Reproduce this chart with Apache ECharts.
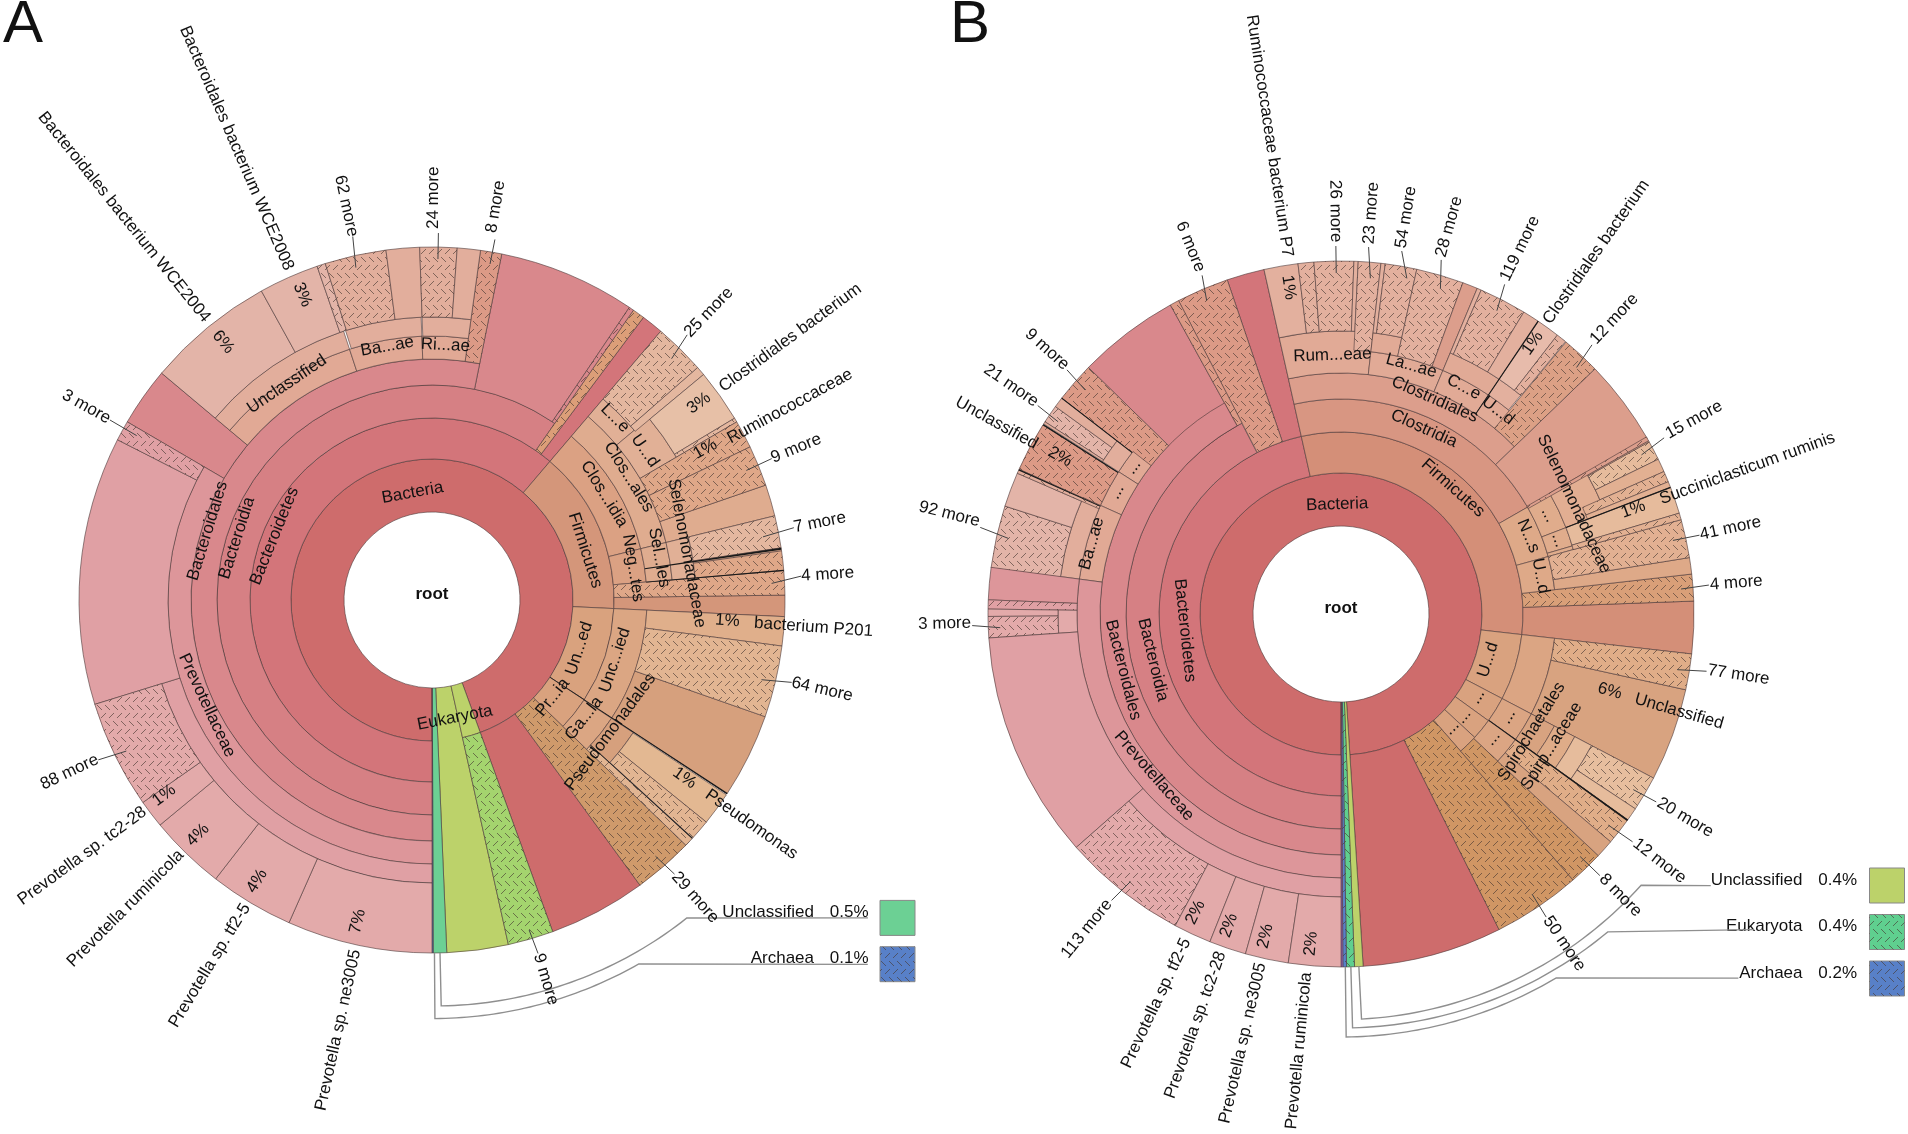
<!DOCTYPE html>
<html><head><meta charset="utf-8">
<style>html,body{margin:0;padding:0;background:#fff}#c{width:1908px;height:1134px}</style>
<script src="https://cdn.jsdelivr.net/npm/echarts@6/dist/echarts.min.js"></script>
</head><body><div id="c"></div>
<script>
// ring edges of the taxonomy levels, in axis units
const ringEdges = [88,141,182,215,241,264,283,353];

// sector rows: ['tone/name', inner ring, outer ring, from degree, to degree] (clockwise from top)
const sectorsA = [
['ba0/Bacteria',0,1,180,520],['ba0/rest',1,7,143.9,160],
['eu/Eukaryota',0,7,167.5,177.6],['eu/Eukaryota',0,1,160,167.5],['eh/9 more',1,7,160,167.5],
['uc/Unclassified',0,7,177.6,179.8],['ar/Archaea',0,7,179.8,180],
['bd1/Bacteroidetes',1,2,180,400.4],['bd1/rest',2,7,396.8,400.4],
['bd2/Bacteroidia',2,3,180,394.8],['pf/few more',2,7,394.8,396.8],
['bd3/rest',3,7,371.4,394],['bd3/few more',3,7,394,394.8],
['bd3/Bacteroidales',3,4,180,371.4],['hd/8 more',4,7,367.9,371.4],['bd3/rest',4,7,300.3,310],
['un4/Unclassified',4,5,310,341.8],['un5/Unclassified',5,6,310,341.8],
['un6/WCE2004',6,7,310,331.1],['un6/WCE2008',6,7,331.1,341],['un6/few more',6,7,341,342.4],
['un4/Ba...ae',4,5,341.8,357.8],['un5/Ba',5,6,342.2,357.8],['un5/62 more',6,7,342.4,352.5],['un5/rest',6,7,352.5,358],
['un4/Ri...ae',4,5,357.8,367.9],['un5/Ri',5,6,358,367.9],['un5/24 more',6,7,358,364.1],['un5/rest',6,7,364.1,367.9],
['bd4/Prevotellaceae',4,5,180,300.3],['bd5/Prevotella',5,6,180,252.8],['bd5/rest',5,7,252.8,297],['bd5/3 more',5,7,297,300.3],
['bd6/ne3005',6,7,180,203.9],['bd6/tf2-5',6,7,203.9,217.8],['bd6/ruminicola',6,7,217.8,230.4],['bd6/tc2-28',6,7,230.4,235],['bd6/88 more',6,7,235,252.8],
['fi1/Firmicutes',1,2,40.4,92.7],['fi1/rest',2,7,89.2,92.7],
['fi2/Clos...idia',2,3,40.4,76.2],['fi2/Neg...tes',2,3,76.2,85.2],['fh/4 more',2,7,85.2,89.2],
['fi3/Clos...ales',3,4,40.4,76.2],['fi3/Sel...les',3,4,76.2,85.2],['fi3/rest',4,7,71,76.2],
['fi4/L...e',4,5,40.4,50],['fi4/U...d',4,6,50,59.7],['fi5/rest',5,7,48.8,50.3],['fi5/25 more',5,7,40.4,48.8],
['fi6/Clostridiales bacterium',6,7,50.3,59],['fi5/few more',6,7,59,59.7],
['fh/Ruminococcaceae more',4,7,59.7,64.3],['fh/9 more',4,7,64.3,71],
['fi4/Selenomonadaceae',4,5,76.2,85.2],['fi5/7 more',5,7,76.2,81.5],['fi3/rest',5,7,81.5,82],['fh/few more',5,7,82,85.2],
['pt1/Un...ed',1,2,92.7,123.2],['pt2/Unc...ied',2,3,92.7,123.4],['pt3/rest',3,7,109.3,123.3],['pt4/P201',3,7,92.7,97.5],['pt5/64 more',3,7,97.5,109.3],
['pt1/Pr...ia',1,2,123.2,134],['ph/29 more',1,7,134,143.9],['pt2/Ga...la',2,3,123.4,134],
['pt3/Pseudomonadales',3,4,123.4,132.5],['pl/Pseudomonas',4,7,123.5,129],['pt5/few more',4,7,129,132.4],['pt5/few more',3,7,132.5,134],
['dk/edge',1,7,123.15,123.4],['dk/edge',3,7,85.1,85.3],['dk/edge',3,7,132.4,132.55],['dk/edge',3,7,81.5,81.8]
];
const sectorsB = [
['ba0/Bacteria',0,1,180,536.4],['ba0/rest',1,7,153.4,176.4],
['yl/Unclassified',0,7,176.4,177.8],['gh/Eukaryota more',0,7,177.8,179.1],['ah/Archaea more',0,7,179.1,179.7],['pu/Other',0,7,179.7,180],
['bd1/Bacteroidetes',1,2,180,347.4],['bd1/rest',2,7,341.2,347.4],
['bd2/Bacteroidia',2,3,180,332.5],['hd/6 more',2,7,332.6,341.2],
['bd3/rest',3,7,314.3,331.1],['hd/few more',3,7,331.1,332.6],
['bd3/Bacteroidales',3,4,180,331.1],['hd/9 more',4,7,307.7,314.3],
['un6/21 more',6,7,303,306],['un5/rest',6,7,302.6,303],['un5/rest',6,7,306,307.7],['un4/...',4,5,302.6,308],['un5/rest',5,6,302.6,307.7],
['un4/...',4,5,294.3,302.6],['hd/Unclassified more',5,7,294.2,302.4],
['un4/Ba...ae',4,5,277.6,294.3],['un5/Ba',5,6,277.6,294.3],['un6/92 more',6,7,277.5,287.8],['un6/rest',6,7,287.8,293.5],['un5/few more',5,7,293.5,294.2],
['bd4/Prevotellaceae',4,5,180,277.6],['bd4/rest',5,7,272.3,277.6],
['bd5/few more',5,7,270.8,272.3],['bd6/box',5,6,266.1,270.8],['bd6/rest',6,7,269.6,270.8],['bd6/3 more',6,7,266.1,269.6],
['bd5/rest',5,7,228.6,266.1],['bd5/Prevotella',5,6,180,228.6],
['bd6/113 more',6,7,208,228.6],['bd6/tf2-5',6,7,201.8,208],['bd6/tc2-28',6,7,195.7,201.8],['bd6/ne3005',6,7,188.6,195.7],['bd6/ruminicola',6,7,180,188.6],
['ff1/Firmicutes',1,2,347.4,456.5],['ff1/rest',2,7,87.9,96.5],
['ff2/Clostridia',2,3,347.4,420.2],['th2/4 more',2,7,83.5,87.9],['ts2/N...s',2,3,60.2,74.5],['ts2/U...d',2,3,74.5,83.5],
['ff3/Clostridiales',3,4,347.4,406],['ff3/rest',3,7,406,420.2],
['ff4/Rum...eae',4,6,347.4,366.5],['ff5/P7',6,7,347.4,353],['ff5/few more',6,7,353,355.6],['ff5/26 more',6,7,355.6,362.1],['ff5/rest',6,7,362.1,362.8],['ff5/23 more',5,7,362.8,366.5],
['ff4/La...ae',4,5,366.5,382.7],['ff4/La',5,6,366.5,372.4],['ff5/rest',6,7,366.5,367.2],['ff5/54 more',6,7,367.2,372.4],['ff5/28 more',5,7,372.4,380.2],['ff3/rest',5,7,380.2,382.7],
['ff4/C...e',4,5,382.7,394],['ff4/C',5,6,382.7,394],['ff5/rest',6,7,382.7,383.4],['ff5/119 more',6,7,383.4,391.2],['ff5/rest',6,7,391.2,394],
['ff4/U...d',4,5,394,400],['ff5/U',5,6,394,399.4],['ff6/Clostridiales bacterium',6,7,394,397.8],['ff5/few more',6,7,397.8,399.5],['ffh/12 more',4,7,399.6,406],
['ts3/...',3,4,60.2,69],['ts3/...',3,4,69,73.6],['ts3/rest',3,4,73.6,74.5],['ts2/rest',3,7,80.8,83.5],['ts5/41 more',3,7,74.5,80.8],
['ts4/Selenomonadaceae',4,6,59.9,69],['ts6/15 more',6,7,60.8,64],['ts5/rest',6,7,60.6,60.8],['ts5/rest',6,7,64,66.2],['ts5/few more',5,7,66.2,68],['ts5/rest',5,7,68,69],
['ts6/Succiniclasticum',4,7,69,73.4],['ts5/few more',4,7,73.4,74.5],['ff3/few more',3,7,59.9,60.6],
['tu1/U...d',1,2,96.5,117.7],['tu2/Un',2,3,96.5,117.7],['tu3/rest',3,7,102.4,117.7],['tu5/77 more',3,7,96.5,102.4],
['tu1/...',1,2,117.7,125.9],['tu1/...',1,2,125.9,132.7],['tu1/...',1,2,132.7,138.9],['th/50 more',1,7,138.9,153.4],
['tu2/...',2,3,117.7,125.7],['tu2/...',2,3,125.7,133.2],['th/8 more',2,7,133.2,138.9],
['tu3/Spirochaetales',3,4,117.7,125.7],['tu4/Spirp...aceae',4,5,117.7,125.7],['tu6/Sp',5,6,117.7,125.7],['tu7/20 more',6,7,117.7,123.5],['tu6/rest',6,7,123.5,125.7],
['tu5/12 more',3,7,125.7,130.2],['tu3/rest',3,7,130.2,133.2],
['dk/edge',2,7,125.6,125.9],['dk/edge',4,7,68.85,69.1],['dk/edge',4,7,33.85,34.05],['dk/edge',5,7,307.6,307.8],['dk/edge',5,7,294.0,294.2],['dk/edge',5,7,302.3,302.55]
];
// text labels: [text, degree, axis radius, kind] kind: i tangential, p radial centred, o radial from anchor
const labelsA = [
['root',0,6,'b'],['Bacteria',-10.3,109,'i'],['Bacteroidetes',-67.9,170,'i'],['Bacteroidia',-72.4,204.6,'i'],['Bacteroidales',-72.9,234.7,'i'],
['Prevotellaceae',244.9,248.6,'i'],['Eukaryota',169,120,'i'],['Firmicutes',72,161,'i'],['Clos...idia',58.4,202,'i'],['Neg...tes',81,203.5,'i'],
['Clos...ales',58,232,'i'],['Sel...les',79.4,231,'i'],['L...e',45.2,258,'i'],['U...d',55,260,'i'],['Selenomonadaceae',79.6,259,'i'],
['Pr...ia',128.9,155,'i'],['Un...ed',108.2,155,'i'],['Ga...la',127.9,192.7,'i'],['Unc...ied',108.2,192.6,'i'],['Pseudomonadales',126.5,222,'i'],
['Unclassified',-33.9,260,'i'],['Ba...ae',-10,257.4,'i'],['Ri...ae',3,255,'i'],
['6%',-39,332,'p'],['3%',-23,331.6,'p'],['3%',53.6,331.6,'p'],['1%',61.1,312,'p'],['1%',94,296,'p'],['1%',125.2,309,'p'],
['1%',233.9,331.6,'p'],['4%',224.9,331.6,'p'],['4%',211.9,331,'p'],['7%',193,330,'p'],
['Bacteroidales bacterium WCE2004',-38.8,359,'o'],['Bacteroidales bacterium WCE2008',-23.4,360,'o'],['62 more',-12.3,372,'o'],['24 more',0.2,371,'o'],['8 more',9.2,372,'o'],
['25 more',43.9,368,'o'],['Clostridiales bacterium',53.8,358,'o'],['Ruminococcaceae',61.6,337,'o'],['9 more',67.4,368,'o'],['7 more',78.7,369,'o'],['4 more',86.3,370,'o'],
['bacterium P201',94.1,323,'o'],['64 more',102.9,369,'o'],['Pseudomonas',125.1,336,'o'],['29 more',138.5,366,'o'],['9 more',163.3,369.6,'o'],
['Prevotella sp. ne3005',192.3,358,'o'],['Prevotella sp. tf2-5',211.3,357,'o'],['Prevotella ruminicola',224.8,356,'o'],['Prevotella sp. tc2-28',233.8,356,'o'],
['88 more',244.6,370,'o'],['3 more',-60.8,369.6,'o']
];
const labelsB = [
['root',0,5.4,'b'],['Bacteria',-2,109.6,'i'],['Bacteroidetes',264,157,'i'],['Bacteroidia',256.3,193.6,'i'],['Bacteroidales',255.6,225,'i'],['Prevotellaceae',229.1,247.4,'i'],
['Firmicutes',41.6,168.5,'i'],['Clostridia',24.1,203,'i'],['Clostridiales',23.6,234,'i'],['Rum...eae',-1.9,259,'i'],['La...ae',15.8,258,'i'],['C...e',28.4,258,'i'],['U...d',37.7,257,'i'],
['Selenomonadaceae',64.7,257.6,'i'],['N...s',67.4,203,'i'],['U...d',79.2,203,'i'],['...',64.5,230,'i'],['...',71.2,230,'i'],
['U...d',107.3,154,'i'],['...',121.2,159.4,'i'],['...',129.8,159.3,'i'],['...',135.7,158.4,'i'],['...',121.5,196,'i'],['...',129.3,196,'i'],
['Spirochaetales',121.7,224,'i'],['Spirp...aceae',122.1,248.6,'i'],['Ba...ae',-74.2,259,'i'],['...',-54.7,254.6,'i'],['...',-61.4,255.5,'i'],
['1%',-9.1,330.7,'p'],['1%',35.3,331.7,'p'],['1%',70.3,310.5,'p'],['6%',106,279.7,'p'],['2%',-60.8,322,'p'],['2%',206,332,'p'],['2%',199.8,331,'p'],['2%',193.2,331,'p'],['2%',185.2,331,'p'],
['Ruminococcaceae bacterium P7',-8.5,361,'o'],['6 more',-22.3,370.5,'o'],['26 more',-0.8,371.7,'o'],['23 more',4.3,371,'o'],['54 more',9.3,371,'o'],['28 more',15.6,371,'o'],['119 more',26.1,371.6,'o'],
['Clostridiales bacterium',35.2,357,'o'],['12 more',42.8,371,'o'],['15 more',61.2,371.6,'o'],['Succiniclasticum ruminis',70.3,339,'o'],['41 more',77.6,367.6,'o'],['4 more',85.5,370,'o'],
['77 more',98.7,371,'o'],['Unclassified',106.1,306,'o'],['20 more',120.6,368.7,'o'],['12 more',127.8,371.8,'o'],['8 more',135.2,370,'o'],['50 more',145.9,367,'o'],
['Prevotella ruminicola',185.5,360,'o'],['Prevotella sp. ne3005',192.9,358,'o'],['Prevotella sp. tc2-28',199.5,358.5,'o'],['Prevotella sp. tf2-5',205.4,360,'o'],['113 more',218.9,369.4,'o'],
['3 more',268.6,370,'o'],['92 more',-75.7,373,'o'],['Unclassified',-61,348,'o'],['21 more',-55.3,370,'o'],['9 more',-48,369,'o']
];
// leader lines: [outer degree, outer radius, inner degree, inner radius]
const leadersA = [[-12.3,372,-12.9,341],[1,367,1,341],[9.9,366,9.8,341],[43.9,368,44.8,340],[67.4,368,67.6,340],[78.7,369,79.2,337],[86.3,370,87.2,340],[102.9,369,103.6,339],[138.5,366,138.9,340],[163.3,369,163.6,344],[244.4,370,243.7,341],[-60.8,369,-60.9,338]];
const leadersB = [[-22.3,366,-23.2,341],[-0.8,368,-0.8,341],[4.3,368,5,337],[9.5,368,11.1,342],[15.8,368,17,340],[26.4,368,27.2,341],[43,368,43.7,341],[61.4,368,62.1,340],[77.6,367,77.5,340],[85.5,369,85.8,341],[98.9,370,99.4,341],[120.8,367,121,341],[128,370,128.3,340.6],[135.3,368,135.4,340.6],[145.9,366,145.7,339],[218.7,367,218.2,340.5],[268.2,369,267.7,341],[-76.5,371,-77.2,341],[-55.5,368,-55.8,342],[-48.3,367,-48.8,340]];
// legend connectors: [start degree, ring radius, arc end degree, arc radius end, tail degree, tail radius]
const connectorsA = [[178.7,406,141.3,407.5,126.1,539.5],[179.6,418.6,150.4,418.6,129.9,568]];
const connectorsB = [[177.1,405.6,132.1,404.5,126.3,458.8],[178.4,414,140,415,127.4,519.6],[179.3,423,149.4,422.8,132.5,539]];
// legend rows: [name, share, tone]
const legendA = [['Unclassified','0.5%','uc'],['Archaea','0.1%','ar#']];
const legendB = [['Unclassified','0.4%','yl'],['Eukaryota','0.4%','gh#'],['Archaea','0.2%','ah#']];

const tones = {ba0:'#CE6C6C',bd1:'#D3757A',bd2:'#D68084',bd3:'#D9888C',bd4:'#DD969A',bd5:'#E0A0A4',bd6:'#E3AAAA',
 un4:'#E1A995',un5:'#E2AE9C',un6:'#E3B4A8',hd:'#DC9A86',pf:'#DC9E78',eu:'#BCD26A',eh:'#A4D46E',uc:'#6CD094',ar:'#5880C8',ah:'#5880C8',yl:'#BCD26A',gh:'#5FCF8F',pu:'#9A66C8',
 fi1:'#D4967A',fi2:'#DBA183',fi3:'#DFAC8F',fi4:'#E1B096',fi5:'#E4B79F',fi6:'#E7C0A7',fh:'#DFA788',
 pt1:'#D9A27E',pt2:'#DBA683',pt3:'#D6A07D',pt4:'#E0AF8B',pt5:'#E2B592',pl:'#E3B892',ph:'#CF9A6B',
 ff1:'#D48F78',ff2:'#D89682',ff3:'#DC9E8C',ff4:'#E1AA96',ff5:'#E3B09E',ff6:'#E7BBAB',ffh:'#DCA085',
 ts2:'#DEA988',ts3:'#E0AC8C',ts4:'#E2AE92',ts5:'#E2B092',ts6:'#E6BB9C',th2:'#D99F78',
 tu1:'#D9A27F',tu2:'#DBA583',tu3:'#D8A380',tu4:'#DFAC88',tu5:'#E0AD88',tu6:'#E6BC9C',tu7:'#E7BE9E',th:'#D09664',dk:'#1a1a1a'};
const FONT='"Liberation Sans"';

// hatch tile for collapsed taxa
function hatchTile(){
  const c=document.createElement('canvas');c.width=c.height=16;
  const g=c.getContext('2d');g.strokeStyle='rgba(70,55,50,.7)';g.lineWidth=.9;
  const segs=[[1,1,6,6],[9,1,14,6],[5,14,10,9],[13,14,18,9],[-3,14,2,9]];
  segs.forEach(s=>{g.beginPath();g.moveTo(s[0],s[1]);g.lineTo(s[2],s[3]);g.stroke();});
  return {image:c,repeat:'repeat'};
}
const hatch=hatchTile();
const norm=a=>((a%360)+360)%360;

function sectorSeries(rows,pi){
  return {type:'custom',coordinateSystem:'polar',polarIndex:pi,silent:true,animation:false,z:1,clip:false,
    data:rows.map((r,i)=>[ringEdges[r[1]],norm(r[3]),i]),encode:{radius:0,angle:1},
    renderItem(params,api){
      const row=rows[api.value(2)],cs=params.coordSys;
      const p0=api.coord([ringEdges[row[1]],norm(row[3])]),p1=api.coord([ringEdges[row[2]],norm(row[4])]);
      const r0=Math.hypot(p0[0]-cs.cx,p0[1]-cs.cy),r=Math.hypot(p1[0]-cs.cx,p1[1]-cs.cy);
      let s=Math.atan2(p0[1]-cs.cy,p0[0]-cs.cx),e=Math.atan2(p1[1]-cs.cy,p1[0]-cs.cx);
      if(e<=s)e+=Math.PI*2;
      const tone=row[0].split('/')[0],name=row[0].split('/')[1];
      const shape={cx:cs.cx,cy:cs.cy,r0,r,startAngle:s,endAngle:e,clockwise:true};
      const kids=[{type:'sector',shape,style:tone==='dk'?{fill:'#1a1a1a'}:{fill:tones[tone],stroke:'rgba(75,55,55,.75)',lineWidth:.8}}];
      if(name.includes('more'))kids.push({type:'sector',shape,style:{fill:hatch,stroke:'none'}});
      return {type:'group',children:kids};
    }};
}
function labelSeries(rows,pi){
  return {type:'custom',coordinateSystem:'polar',polarIndex:pi,silent:true,animation:false,z:3,clip:false,
    data:rows.map((r,i)=>[r[2],norm(r[1]),i]),encode:{radius:0,angle:1},
    renderItem(params,api){
      const row=rows[api.value(2)],t=norm(row[1]),k=row[3];
      const p=api.coord([row[2],t]);
      let cw=0,align='center',size=17;
      if(k==='i')cw=(t<=90||t>=270)?(t>=270?t-360:t):t-180;
      else if(k==='p'||k==='o'){cw=t<=180?t-90:t+90-360;if(k==='o')align=t<=180?'left':'right';}
      return {type:'text',x:p[0],y:p[1],rotation:-cw*Math.PI/180,
        style:{text:row[0],align,verticalAlign:'middle',fill:'#111',
          font:(k==='b'?'bold 17px ':size+'px ')+FONT}};
    }};
}
function leaderSeries(rows,conn,pi){
  return {type:'custom',coordinateSystem:'polar',polarIndex:pi,silent:true,animation:false,z:2,clip:false,
    data:rows.map((r,i)=>[r[1],norm(r[0]),i]).concat(conn.map((r,i)=>[r[1],norm(r[0]),rows.length+i])),encode:{radius:0,angle:1},
    renderItem(params,api){
      const i=api.value(2);
      if(i<rows.length){const r=rows[i];
        const a=api.coord([r[1],norm(r[0])]),b=api.coord([r[3],norm(r[2])]);
        return {type:'polyline',shape:{points:[a,b]},style:{stroke:'#444',lineWidth:1,fill:'none'}};}
      const c=conn[i-rows.length],pts=[api.coord([353,c[0]])];
      for(let n=0;n<=40;n++){const f=n/40;pts.push(api.coord([c[1]+(c[3]-c[1])*f,c[0]+(c[2]-c[0])*f]));}
      pts.push(api.coord([c[5],c[4]]));
      return {type:'polyline',shape:{points:pts},style:{stroke:'#8f8f8f',lineWidth:1.4,fill:'none'}};
    }};
}
function legendGraphics(rows,textRight,shareRight,swLeft,firstY,step,textDy){
  const out=[];
  rows.forEach((r,i)=>{
    const y=firstY+i*step,tone=r[2].replace('#','');
    const shape={x:swLeft,y,width:35,height:35};
    out.push({type:'rect',shape,style:{fill:tones[tone],stroke:'#888',lineWidth:1}});
    if(r[2].includes('#'))out.push({type:'rect',shape,style:{fill:hatch}});
    out.push({type:'text',style:{x:textRight,y:y+textDy,text:r[0],font:'17px '+FONT,fill:'#111',align:'right',verticalAlign:'middle'}});
    out.push({type:'text',style:{x:shareRight,y:y+textDy,text:r[1],font:'17px '+FONT,fill:'#111',align:'right',verticalAlign:'middle'}});
  });
  return out;
}
const axisOff={show:false};
const chart=echarts.init(document.getElementById('c'),null,{renderer:'canvas'});
chart.setOption({
  backgroundColor:'#fff',animation:false,
  polar:[{center:[432,600],radius:353},{center:[1341,614],radius:353}],
  angleAxis:[0,1].map(i=>({polarIndex:i,type:'value',min:0,max:360,startAngle:90,clockwise:true,show:false,axisLine:axisOff,axisTick:axisOff,axisLabel:axisOff,splitLine:axisOff})),
  radiusAxis:[0,1].map(i=>({polarIndex:i,type:'value',min:0,max:353,show:false,axisLine:axisOff,axisTick:axisOff,axisLabel:axisOff,splitLine:axisOff})),
  series:[sectorSeries(sectorsA,0),leaderSeries(leadersA,connectorsA,0),labelSeries(labelsA,0),
          sectorSeries(sectorsB,1),leaderSeries(leadersB,connectorsB,1),labelSeries(labelsB,1)],
  graphic:[
    {type:'text',style:{x:3,y:25,text:'A',font:'60px '+FONT,fill:'#111',verticalAlign:'middle'}},
    {type:'text',style:{x:950,y:25,text:'B',font:'60px '+FONT,fill:'#111',verticalAlign:'middle'}}
  ].concat(legendGraphics(legendA,814,868.6,880,900.4,46.3,12),legendGraphics(legendB,1802.5,1857,1869.5,868,46.5,12))
});
</script></body></html>
